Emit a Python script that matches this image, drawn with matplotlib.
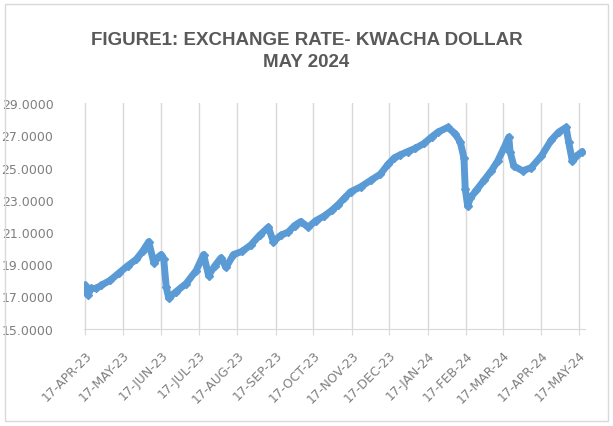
import matplotlib.pyplot as plt
import pandas as pd

# Kwacha per US dollar
dates = ["2023-04-17", "2023-04-19", "2023-04-22", "2023-04-26", "2023-04-30",
         "2023-05-07", "2023-05-14", "2023-05-21", "2023-05-28", "2023-06-02",
         "2023-06-07", "2023-06-11", "2023-06-14", "2023-06-17", "2023-06-19",
         "2023-06-21", "2023-06-23", "2023-06-29", "2023-07-07", "2023-07-15",
         "2023-07-21", "2023-07-25", "2023-07-30", "2023-08-04", "2023-08-08",
         "2023-08-14", "2023-08-21", "2023-08-28", "2023-09-04", "2023-09-11",
         "2023-09-15", "2023-09-21", "2023-09-27", "2023-10-02", "2023-10-07",
         "2023-10-13", "2023-10-19", "2023-10-26", "2023-11-01", "2023-11-06",
         "2023-11-11", "2023-11-16", "2023-11-24", "2023-12-02", "2023-12-10",
         "2023-12-16", "2023-12-21", "2023-12-26", "2024-01-01", "2024-01-07",
         "2024-01-14", "2024-01-20", "2024-01-25", "2024-02-02", "2024-02-08",
         "2024-02-12", "2024-02-15", "2024-02-16", "2024-02-18", "2024-02-20",
         "2024-02-25", "2024-03-02", "2024-03-08", "2024-03-13", "2024-03-18",
         "2024-03-22", "2024-03-23", "2024-03-26", "2024-04-02", "2024-04-09",
         "2024-04-17", "2024-04-25", "2024-05-01", "2024-05-07", "2024-05-09",
         "2024-05-12", "2024-05-15", "2024-05-20"]
rates = [17.7, 17.1, 17.5, 17.5, 17.7,
         18.0, 18.45, 18.9, 19.3, 19.8,
         20.4, 19.1, 19.4, 19.6, 19.3,
         17.6, 16.9, 17.3, 17.8, 18.6,
         19.6, 18.3, 18.9, 19.4, 18.8,
         19.6, 19.8, 20.2, 20.8, 21.3,
         20.4, 20.8, 21.0, 21.4, 21.65,
         21.3, 21.7, 22.0, 22.35, 22.7,
         23.1, 23.5, 23.8, 24.2, 24.6,
         25.2, 25.6, 25.8, 26.0, 26.2,
         26.5, 26.9, 27.2, 27.5, 27.1,
         26.6, 25.6, 23.7, 22.6, 23.1,
         23.6, 24.2, 24.8, 25.4, 26.2,
         26.9, 26.0, 25.1, 24.8, 25.0,
         25.7, 26.7, 27.2, 27.5, 26.6,
         25.4, 25.7, 26.0]
tick_dates = pd.date_range("2023-04-17", "2024-05-17", freq=pd.DateOffset(months=1))
yticks = [15, 17, 19, 21, 23, 25, 27, 29]

fig = plt.figure(figsize=(6.13, 4.27), dpi=100)
ax = fig.add_axes([0.137, 0.228, 0.817, 0.528])

x = pd.to_datetime(dates)
ax.plot(x, rates, color="#5B9BD5", lw=5, marker="D", ms=4,
        solid_joinstyle="round", solid_capstyle="round")

ax.set_ylim(15, 29)
ax.set_yticks(yticks)
ax.set_yticklabels([f"{v:.4f}" for v in yticks])
ax.set_xlim(pd.Timestamp("2023-04-16"), pd.Timestamp("2024-05-22"))
ax.set_xticks(tick_dates)
ax.set_xticklabels([d.strftime("%d-%b-%y").upper() for d in tick_dates],
                   rotation=45, ha="right", rotation_mode="anchor")
ax.tick_params(colors="#7F7F7F", labelsize=9)
ax.tick_params(axis="y", length=0, pad=22)
ax.tick_params(axis="x", length=4, color="#D9D9D9", pad=10)
ax.grid(axis="x", color="#D9D9D9", lw=1)
for s in ["top", "right", "left"]:
    ax.spines[s].set_visible(False)
ax.spines["bottom"].set_color("#D9D9D9")

fig.text(0.5, 0.88, "FIGURE1: EXCHANGE RATE- KWACHA DOLLAR\nMAY 2024",
         ha="center", va="center", fontsize=13.5, color="#595959",
         fontweight="bold", linespacing=1.4,
         family=["Liberation Sans", "DejaVu Sans"])

fig.patches.append(plt.Rectangle((0.008, 0.012), 0.984, 0.976,
                                 transform=fig.transFigure, fill=False,
                                 edgecolor="#D9D9D9", lw=1))
plt.savefig("out.png", dpi=100)
